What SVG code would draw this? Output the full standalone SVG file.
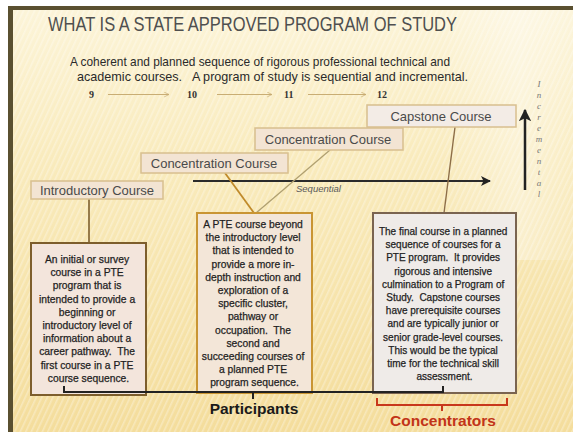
<svg xmlns="http://www.w3.org/2000/svg" width="573" height="432" viewBox="0 0 573 432">
<defs>
  <linearGradient id="bg" x1="0" y1="0" x2="0" y2="1">
    <stop offset="0" stop-color="#fcf4d8"/>
    <stop offset="0.35" stop-color="#f9ebbd"/>
    <stop offset="1" stop-color="#f4dd9c"/>
  </linearGradient>
  <linearGradient id="glow" x1="0" y1="0" x2="1" y2="0">
    <stop offset="0" stop-color="#ffffff" stop-opacity="0"/>
    <stop offset="0.6" stop-color="#ffffff" stop-opacity="0.35"/>
    <stop offset="1" stop-color="#ffffff" stop-opacity="0.1"/>
  </linearGradient>
  <pattern id="stripes" width="5" height="5" patternUnits="userSpaceOnUse" patternTransform="rotate(25)">
    <rect x="0" y="0" width="1.6" height="5" fill="#ffffff" fill-opacity="0.3"/>
  </pattern>
  <marker id="arrDark" viewBox="0 0 10 10" refX="9" refY="5" markerWidth="5" markerHeight="5" orient="auto">
    <path d="M0,0 L10,5 L0,10 L2.5,5 Z" fill="#222"/>
  </marker>
  <marker id="arrTan" viewBox="0 0 10 10" refX="9" refY="5" markerWidth="6" markerHeight="6" orient="auto">
    <path d="M1,1 L9,5 L1,9" fill="none" stroke="#c9ad74" stroke-width="1.2"/>
  </marker>
</defs>
<style>
  .title { font-family: "Liberation Sans", Arial, sans-serif; font-size: 20px; fill: #4f4f4f; }
  .sub { font-family: "Liberation Sans", Arial, sans-serif; font-size: 13.5px; fill: #2a2a2a; }
  .grade { font-family: "Liberation Serif", "Times New Roman", serif; font-size: 10px; font-weight: bold; fill: #333; }
  .gline { stroke: #c9ad74; stroke-width: 1; fill: none; }
  .cbox { fill: #f3e4d3; stroke: #d8bf8f; stroke-width: 1.5; }
  .ctext { font-family: "Liberation Sans", Arial, sans-serif; font-size: 13px; fill: #4a4a4a; text-anchor: middle; }
  .dtext { font-family: "Liberation Sans", Arial, sans-serif; font-size: 10.3px; fill: #1f1f1f; stroke: #1f1f1f; stroke-width: 0.25; text-anchor: middle; }
  .conn { fill: none; }
  .seq { font-family: "Liberation Sans", Arial, sans-serif; font-size: 9.5px; font-style: italic; fill: #5a5a5a; }
  .inc { font-family: "Liberation Serif", serif; font-size: 9px; font-style: italic; fill: #777; text-anchor: middle; }
  .big { font-family: "Liberation Sans", Arial, sans-serif; font-size: 15.5px; font-weight: bold; text-anchor: middle; }
</style>

<!-- background and frame -->
<rect x="0" y="0" width="573" height="432" fill="#ffffff"/>
<rect x="8" y="6" width="565" height="426" fill="#5a5030"/>
<rect x="13" y="10" width="560" height="422" fill="url(#bg)"/>
<rect x="13" y="10" width="560" height="422" fill="url(#stripes)"/>
<rect x="440" y="10" width="133" height="250" fill="url(#glow)"/>

<!-- title -->
<text class="title" x="48" y="31" textLength="409" lengthAdjust="spacingAndGlyphs">WHAT IS A STATE APPROVED PROGRAM OF STUDY</text>
<text class="sub" x="70" y="66" textLength="380" lengthAdjust="spacingAndGlyphs">A coherent and planned sequence of rigorous professional technical and</text>
<text class="sub" x="77" y="81" textLength="391" lengthAdjust="spacingAndGlyphs">academic courses.&#160;&#160; A program of study is sequential and incremental.</text>

<!-- grade row -->
<g id="grades">
  <text class="grade" x="89" y="98">9</text>
  <text class="grade" x="187" y="98">10</text>
  <text class="grade" x="284" y="98">11</text>
  <text class="grade" x="377" y="98">12</text>
  <line class="gline" x1="108" y1="94.5" x2="169" y2="94.5" marker-end="url(#arrTan)"/>
  <line class="gline" x1="217" y1="94.5" x2="272" y2="94.5" marker-end="url(#arrTan)"/>
  <line class="gline" x1="308" y1="94.5" x2="366" y2="94.5" marker-end="url(#arrTan)"/>
</g>

<!-- axes -->
<g id="axes">
  <line x1="193" y1="181" x2="490" y2="181" stroke="#2b2b2b" stroke-width="2" marker-end="url(#arrDark)"/>
  <text class="seq" x="296" y="192">Sequential</text>
  <line x1="525" y1="190" x2="525" y2="110" stroke="#222" stroke-width="2.5" marker-end="url(#arrDark)"/>
  <text class="inc">
    <tspan x="539" y="87">I</tspan><tspan x="539" y="98">n</tspan><tspan x="539" y="109">c</tspan><tspan x="539" y="120">r</tspan><tspan x="539" y="131">e</tspan><tspan x="539" y="142">m</tspan><tspan x="539" y="153">e</tspan><tspan x="539" y="164">n</tspan><tspan x="539" y="175">t</tspan><tspan x="539" y="186">a</tspan><tspan x="539" y="197">l</tspan>
  </text>
</g>

<!-- connectors -->
<g id="connectors">
  <line class="conn" x1="89" y1="199" x2="89" y2="243" stroke="#7d5e2c" stroke-width="1.6"/>
  <line class="conn" x1="254" y1="213" x2="225" y2="173" stroke="#c08a2a" stroke-width="1.8"/>
  <line class="conn" x1="256" y1="213" x2="330" y2="150" stroke="#b0a070" stroke-width="1.3"/>
  <line class="conn" x1="455" y1="127" x2="444" y2="213" stroke="#8d6e48" stroke-width="1.4"/>
</g>

<!-- course boxes -->
<g id="introductory">
  <rect class="cbox" x="31" y="181" width="132" height="18"/>
  <text class="ctext" x="97" y="194.5">Introductory Course</text>
</g>
<g id="concentration1">
  <rect class="cbox" x="141" y="153" width="147" height="20"/>
  <text class="ctext" x="214" y="167.5">Concentration Course</text>
</g>
<g id="concentration2">
  <rect class="cbox" x="255" y="128" width="148" height="22"/>
  <text class="ctext" x="328" y="144">Concentration Course</text>
</g>
<g id="capstone">
  <rect class="cbox" x="367" y="105" width="149" height="22" style="fill:#f3ece6"/>
  <text class="ctext" x="441" y="121">Capstone Course</text>
</g>

<!-- description boxes -->
<g id="desc-intro">
  <rect x="31" y="243" width="115" height="152" fill="#f3e5dc" stroke="#7d5e2c" stroke-width="2"/>
  <text class="dtext">
    <tspan x="88.5" y="263">An initial or survey</tspan>
    <tspan x="88.5" dy="13.2">course in a PTE</tspan>
    <tspan x="88.5" dy="13.2">program that is</tspan>
    <tspan x="88.5" dy="13.2">intended to provide a</tspan>
    <tspan x="88.5" dy="13.2">beginning or</tspan>
    <tspan x="88.5" dy="13.2">introductory level of</tspan>
    <tspan x="88.5" dy="13.2">information about a</tspan>
    <tspan x="88.5" dy="13.2">career pathway.&#160; The</tspan>
    <tspan x="88.5" dy="13.2">first course in a PTE</tspan>
    <tspan x="88.5" dy="13.2">course sequence.</tspan>
  </text>
</g>
<g id="desc-concentration">
  <rect x="197" y="213" width="115" height="180" fill="#f3e6d8" stroke="#c99533" stroke-width="2"/>
  <text class="dtext">
    <tspan x="254.5" y="228">A PTE course beyond</tspan>
    <tspan x="254.5" dy="13.2">the introductory level</tspan>
    <tspan x="254.5" dy="13.2">that is intended to</tspan>
    <tspan x="254.5" dy="13.2">provide a more in-</tspan>
    <tspan x="254.5" dy="13.2">depth instruction and</tspan>
    <tspan x="254.5" dy="13.2">exploration of a</tspan>
    <tspan x="254.5" dy="13.2">specific cluster,</tspan>
    <tspan x="254.5" dy="13.2">pathway or</tspan>
    <tspan x="254.5" dy="13.2">occupation.&#160; The</tspan>
    <tspan x="254.5" dy="13.2">second and</tspan>
    <tspan x="254.5" dy="13.2">succeeding courses of</tspan>
    <tspan x="254.5" dy="13.2">a planned PTE</tspan>
    <tspan x="254.5" dy="13.2">program sequence.</tspan>
  </text>
</g>
<g id="desc-capstone">
  <rect x="373" y="213" width="143" height="180" fill="#efebe8" stroke="#7a6450" stroke-width="2"/>
  <text class="dtext" style="font-size:10px">
    <tspan x="444.5" y="235">The final course in a planned</tspan>
    <tspan x="444.5" dy="13.2">sequence of courses for a</tspan>
    <tspan x="444.5" dy="13.2">PTE program.&#160; It provides</tspan>
    <tspan x="444.5" dy="13.2">rigorous and intensive</tspan>
    <tspan x="444.5" dy="13.2">culmination to a Program of</tspan>
    <tspan x="444.5" dy="13.2">Study.&#160; Capstone courses</tspan>
    <tspan x="444.5" dy="13.2">have prerequisite courses</tspan>
    <tspan x="444.5" dy="13.2">and are typically junior or</tspan>
    <tspan x="444.5" dy="13.2">senior grade-level courses.</tspan>
    <tspan x="444.5" dy="13.2">This would be the typical</tspan>
    <tspan x="444.5" dy="13.2">time for the technical skill</tspan>
    <tspan x="444.5" dy="13.2">assessment.</tspan>
  </text>
</g>

<!-- brackets -->
<g id="participants">
  <path d="M64 386 V392 H443 V386 M253 392 V399" fill="none" stroke="#222" stroke-width="2"/>
  <text class="big" x="254" y="414" fill="#1a1a1a">Participants</text>
</g>
<g id="concentrators">
  <path d="M377 398 V405 H507 V398 M442 405 V411" fill="none" stroke="#c8381c" stroke-width="2"/>
  <text class="big" x="443" y="426" fill="#c23418">Concentrators</text>
</g>
</svg>
